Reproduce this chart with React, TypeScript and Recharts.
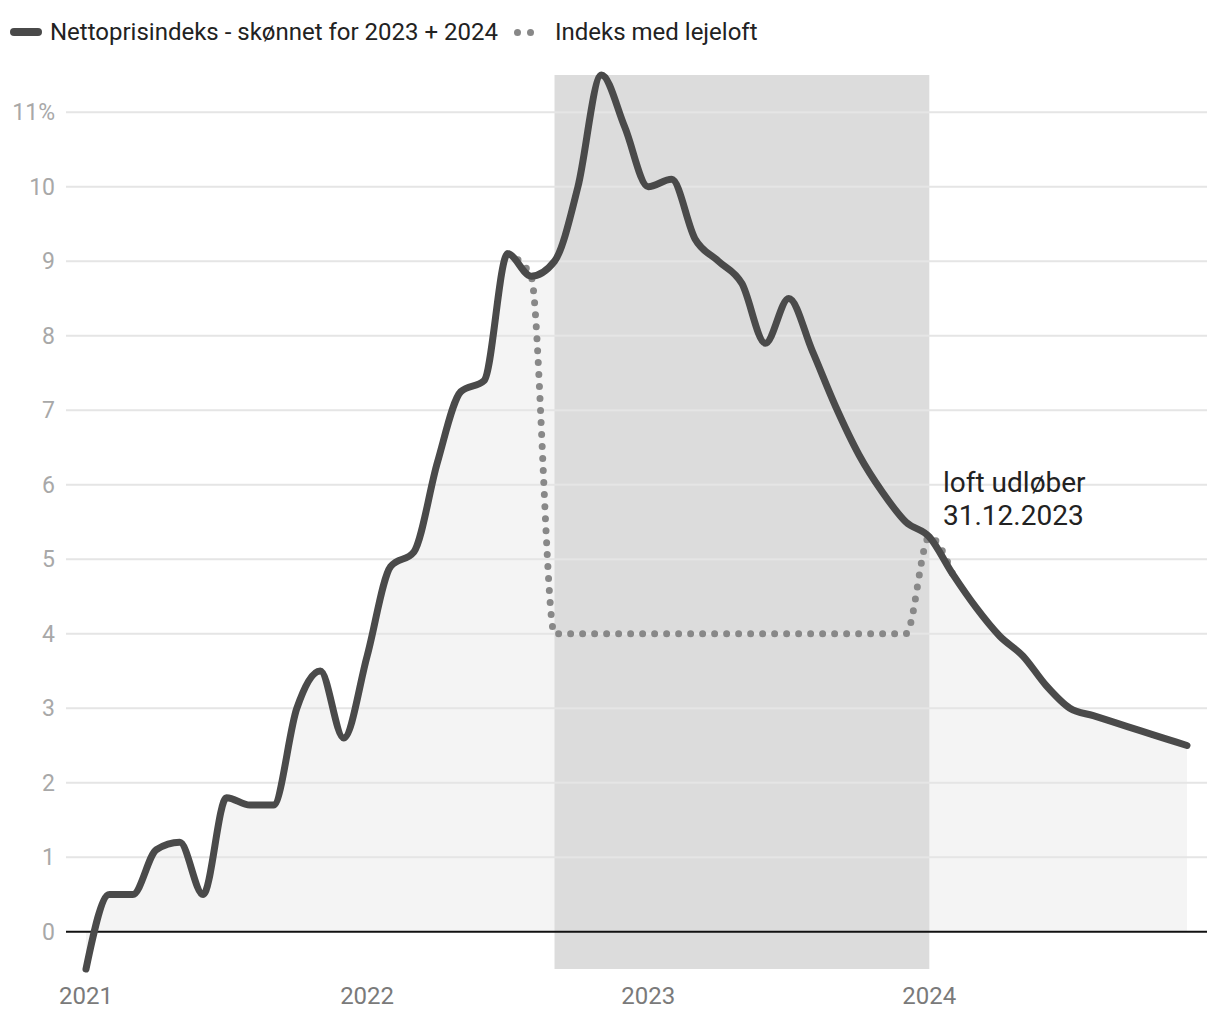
import React from "react";
import {
  ComposedChart,
  Area,
  Line,
  XAxis,
  YAxis,
  ReferenceArea,
  ReferenceLine,
} from "recharts";

const months: number[] = Array.from({ length: 48 }, (_, i) => i);

const nettoprisindeks: number[] = [
  -0.5, 0.5, 0.5, 1.1, 1.2, 0.5, 1.8, 1.7, 1.7, 3.0, 3.5, 2.6,
  3.7, 4.9, 5.1, 6.3, 7.25, 7.4, 9.1, 8.8, 9.0, 10.0, 11.5, 10.8,
  10.0, 10.1, 9.3, 9.0, 8.7, 7.9, 8.5, 7.8, 7.05, 6.4, 5.9, 5.5,
  5.3, 4.8, 4.35, 3.97, 3.7, 3.3, 3.0, 2.9, 2.8, 2.7, 2.6, 2.5,
];

const lejeloft: (number | null)[] = [
  null, null, null, null, null, null, null, null, null, null, null, null,
  null, null, null, null, null, null, 9.1, 8.8, 4.0, 4.0, 4.0, 4.0,
  4.0, 4.0, 4.0, 4.0, 4.0, 4.0, 4.0, 4.0, 4.0, 4.0, 4.0, 4.0,
  5.3, 4.8, null, null, null, null, null, null, null, null, null, null,
];

const yearTicks: number[] = [0, 12, 24, 36];
const yearLabels: string[] = ["2021", "2022", "2023", "2024"];
const yTicks: number[] = [0, 1, 2, 3, 4, 5, 6, 7, 8, 9, 10, 11];
const gridValues: number[] = [1, 2, 3, 4, 5, 6, 7, 8, 9, 10, 11];

const loftStart = 20;
const loftEnd = 36;

const legendLabels = ["Nettoprisindeks - skønnet for 2023 + 2024", "Indeks med lejeloft"];
const annotationLines = ["loft udløber", "31.12.2023"];

const data = months.map((m, i) => ({
  m,
  netto: nettoprisindeks[i],
  loft: lejeloft[i],
}));

const FONT = "Roboto, 'Noto Sans', sans-serif";

const XTick = (props: any) => {
  const { x, payload } = props;
  const idx = yearTicks.indexOf(payload.value);
  return (
    <text x={x} y={1004} textAnchor="middle" fill="#7a7a7a" fontSize={24} fontFamily={FONT}>
      {yearLabels[idx]}
    </text>
  );
};

const YTick = (props: any) => {
  const { y, payload } = props;
  const v = payload.value;
  return (
    <text x={55} y={y + 8} textAnchor="end" fill="#a8a8a8" fontSize={23} fontFamily={FONT}>
      {v === 11 ? "11%" : String(v)}
    </text>
  );
};

export default function App() {
  return (
    <div style={{ position: "absolute", left: 0, top: 0, width: 1220, height: 1020, background: "#fff", fontFamily: FONT }}>
      <div style={{ position: "absolute", left: 0, top: 0, width: 1220, height: 60 }}>
        <div style={{ position: "absolute", left: 10, top: 28, width: 32, height: 8, borderRadius: 4, background: "#4a4a4a" }} />
        <div style={{ position: "absolute", left: 50, top: 16, fontSize: 24, color: "#222", whiteSpace: "nowrap", lineHeight: "32px" }}>
          {legendLabels[0]}
        </div>
        <div style={{ position: "absolute", left: 514, top: 29, width: 7, height: 7, borderRadius: 4, background: "#888" }} />
        <div style={{ position: "absolute", left: 527, top: 29, width: 7, height: 7, borderRadius: 4, background: "#888" }} />
        <div style={{ position: "absolute", left: 555, top: 16, fontSize: 24, color: "#222", whiteSpace: "nowrap", lineHeight: "32px" }}>
          {legendLabels[1]}
        </div>
      </div>
      <ComposedChart
        width={1220}
        height={1020}
        data={data}
        margin={{ top: 75, right: 13, left: 0, bottom: 0 }}
      >
        <XAxis
          dataKey="m"
          type="number"
          domain={[0, 47]}
          ticks={yearTicks}
          padding={{ left: 20, right: 20 }}
          axisLine={false}
          tickLine={false}
          height={51}
          tick={<XTick />}
          interval={0}
        />
        <YAxis
          type="number"
          domain={[-0.5, 11.5]}
          ticks={yTicks}
          axisLine={false}
          tickLine={false}
          width={66}
          tick={<YTick />}
          interval={0}
        />
        <Area
          dataKey="netto"
          type="monotone"
          stroke="none"
          fill="#f4f4f4"
          fillOpacity={1}
          isAnimationActive={false}
        />
        <ReferenceArea x1={loftStart} x2={loftEnd} fill="#dcdcdc" fillOpacity={1} stroke="none" ifOverflow="extendDomain" />
        {gridValues.map((v) => (
          <ReferenceLine key={v} y={v} stroke="#e5e5e5" strokeWidth={2} />
        ))}
        <ReferenceLine y={0} stroke="#111" strokeWidth={2} />
        <Line
          dataKey="loft"
          type="monotone"
          stroke="#888"
          strokeWidth={7}
          strokeDasharray="0 12"
          strokeLinecap="round"
          dot={false}
          activeDot={false}
          connectNulls={false}
          isAnimationActive={false}
        />
        <Line
          dataKey="netto"
          type="monotone"
          stroke="#4a4a4a"
          strokeWidth={7}
          strokeLinecap="round"
          strokeLinejoin="round"
          dot={false}
          activeDot={false}
          isAnimationActive={false}
        />
      </ComposedChart>
      <div style={{ position: "absolute", left: 943, top: 466, fontSize: 28, color: "#222", lineHeight: "33px", whiteSpace: "nowrap" }}>
        <div>{annotationLines[0]}</div>
        <div>{annotationLines[1]}</div>
      </div>
    </div>
  );
}
